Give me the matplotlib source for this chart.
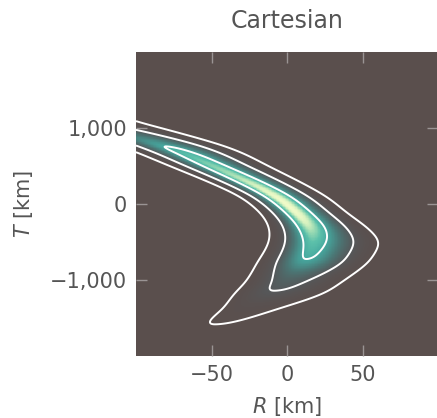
import numpy as np
import matplotlib
matplotlib.use('Agg')
import matplotlib.pyplot as plt
from matplotlib.colors import LinearSegmentedColormap
from matplotlib.ticker import FuncFormatter

# ridge of the density (T in km -> R in km)
t_knots = [-1900, -1600, -1364, -1170, -1009, -766, -500, -300, -126, 95, 316, 560, 648, 774, 880, 1000, 1150]
ridge_r = [-75, -50, -26, -10, 0.5, 12.4, 18, 15.5, 7, -6, -28, -56, -64, -81, -100, -122, -152]
# horizontal spread on the concave (left) and convex (right) side, km
sig_in = [10, 10, 10, 10, 10.5, 10.5, 9.5, 8.5, 7.5, 7.5, 8.5, 9.5, 10, 10, 10, 10, 10]
sig_out = [15, 15, 15, 15, 14.5, 14, 14.5, 12, 10.5, 10.5, 11, 12, 12.5, 13, 13.5, 14.5, 16]
# log drop of the peak along the arc
log_drop = [8, 5.0, 3.9, 2.1, 1.7, 0.45, 0.25, 0.07, 0.0, 0.0, 0.08, 0.2, 0.26, 0.42, 0.9, 1.4, 2.4]

contour_drop = [5.0, 2.1, 0.45]   # outer, middle, inner contour
x_ticks = [-50, 0, 50]
y_ticks = [-1000, 0, 1000]


def smooth(y, n):
    k = np.exp(-0.5 * (np.arange(-3 * n, 3 * n + 1) / n) ** 2)
    k /= k.sum()
    yp = np.pad(y, 3 * n, mode='edge')
    return np.convolve(yp, k, mode='valid')


r = np.linspace(-100, 100, 500)
t = np.linspace(-2000, 2000, 501)
m = smooth(np.interp(t, t_knots, ridge_r), 11)
si = smooth(np.interp(t, t_knots, sig_in), 10)
so = smooth(np.interp(t, t_knots, sig_out), 9)
ld = smooth(np.interp(t, t_knots, log_drop), 7)

R, T = np.meshgrid(r, t)
d = R - m[:, None]
s = np.where(d < 0, si[:, None], so[:, None])
dens = np.exp(-ld[:, None] - 0.5 * (d / s) ** 2)
levels = np.exp(-np.array(contour_drop))

bg = '#5a4f4d'
cmap = LinearSegmentedColormap.from_list('banana', [
    (0.0, bg), (0.12, '#55585a'), (0.35, '#4a7876'), (0.64, '#45a89f'),
    (0.78, '#5cc0aa'), (0.88, '#9fdcb4'), (0.95, '#d8f2c0'), (1.0, '#f0fac8')])

text_col = '#555555'
plt.rcParams['font.family'] = 'DejaVu Sans'
fig = plt.figure(figsize=(4.37, 4.18), dpi=100)
ax = fig.add_axes([136/437, 62/418, 302/437, 304/418])
ax.pcolormesh(R, T, dens, cmap=cmap, vmin=0, vmax=1, shading='auto', rasterized=True)
ax.contour(R, T, dens, levels=levels, colors='white', linewidths=1.4)
ax.set_xlim(-100, 100)
ax.set_ylim(-2000, 2000)
ax.set_facecolor(bg)
for sp in ax.spines.values():
    sp.set_visible(False)

ax.set_xticks(x_ticks)
ax.set_yticks(y_ticks)
fmt = FuncFormatter(lambda v, p: f"{v:,.0f}".replace('-', '\u2212'))
ax.xaxis.set_major_formatter(fmt)
ax.yaxis.set_major_formatter(fmt)
ax.tick_params(direction='in', length=8, width=1, color='#9a9494',
               top=True, right=True, labelsize=15, labelcolor=text_col, pad=6.5)
ax.set_xlabel('$R$ [km]', fontsize=15, color=text_col, labelpad=7.5)
ax.set_ylabel('$T$ [km]', fontsize=15, color=text_col, labelpad=11)
ax.set_title('Cartesian', fontsize=17, color=text_col, pad=17)

fig.savefig('out.png', dpi=100)
